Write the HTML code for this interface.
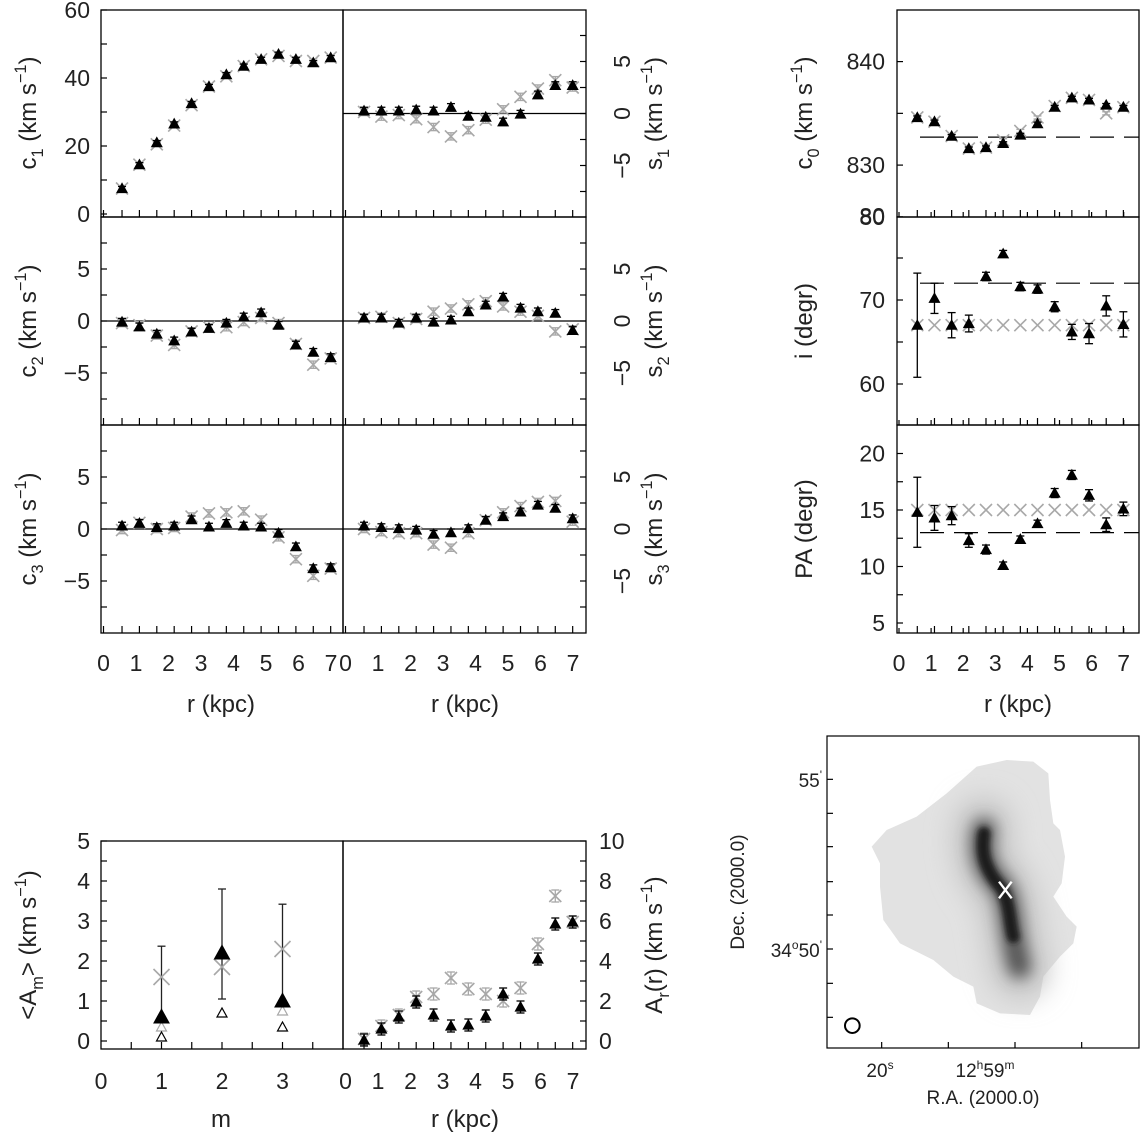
<!DOCTYPE html>
<html><head><meta charset="utf-8">
<style>
html,body{margin:0;padding:0;background:#fff;}
svg{display:block;font-family:"Liberation Sans",sans-serif;}
text{fill:#222;}
</style></head>
<body>
<svg id="fig" width="1140" height="1134" viewBox="0 0 1140 1134" xmlns="http://www.w3.org/2000/svg">
<defs>
<filter id="blur6" filterUnits="userSpaceOnUse" x="-500" y="-500" width="3000" height="3000"><feGaussianBlur stdDeviation="8"/></filter>
<filter id="blur14" filterUnits="userSpaceOnUse" x="-500" y="-500" width="3000" height="3000"><feGaussianBlur stdDeviation="22"/></filter>
<filter id="blur30" filterUnits="userSpaceOnUse" x="-500" y="-500" width="3000" height="3000"><feGaussianBlur stdDeviation="40"/></filter>
</defs>
<g id="map">
<rect x="827" y="736" width="312" height="312" fill="#fff" stroke="#000" stroke-width="1.2"/>
<g transform="translate(700,730) scale(0.33333)">
<polygon fill="#e2e2e2" points="515,350 560,300 650,260 740,190 830,110 920,90 1000,95 1045,130 1050,210 1060,280 1080,300 1095,380 1085,460 1060,500 1100,560 1130,590 1120,640 1080,680 1030,740 1020,800 990,855 900,850 830,820 820,770 760,740 700,690 600,640 550,570 540,470 540,400"/>
<path d="M850,290 C840,360 850,420 905,470 C935,520 930,600 960,720" fill="none" stroke="#c4c4c4" stroke-width="170" stroke-linecap="round" filter="url(#blur30)"/>
<path d="M852,300 C838,360 850,420 905,470 C935,520 928,600 958,710" fill="none" stroke="#555" stroke-width="70" stroke-linecap="round" filter="url(#blur14)"/>
<path d="M852,310 C842,370 855,420 905,475 C930,520 930,590 940,620" fill="none" stroke="#1a1a1a" stroke-width="38" stroke-linecap="round" filter="url(#blur6)"/>
<g stroke="#fff" stroke-width="7"><line x1="897" y1="455" x2="935" y2="505"/><line x1="935" y1="455" x2="897" y2="505"/></g>
<circle cx="457" cy="887" r="22" fill="none" stroke="#000" stroke-width="6"/>
</g>
</g>
<g id="g"></g>
</svg>
<script>
// ---------- data ----------
const rIdx = [0,1,2,3,4,5,6,7,8,9,10,11,12];
const c1Black = [7.5,14.5,21,26.5,32.5,37.5,41,43.5,45.5,47,45.5,44.5,46];
const c1Grey  = [7.5,14.5,20.5,26,32,37.5,40.5,43.5,45.5,46.5,45,45,46];
const s1Black = [0.25,0.25,0.25,0.35,0.25,0.6,-0.25,-0.35,-0.8,-0.05,1.8,2.7,2.7];
const s1Grey  = [0.15,-0.3,-0.15,-0.55,-1.3,-2.2,-1.6,-0.6,0.4,1.6,2.4,3.2,2.5];
const c2Black = [-0.1,-0.55,-1.25,-1.9,-1.05,-0.7,-0.2,0.4,0.8,-0.4,-2.3,-3.0,-3.5];
const c2Grey  = [-0.2,-0.4,-1.4,-2.3,-1.0,-0.6,-0.6,-0.1,0.3,-0.2,-2.2,-4.2,-3.6];
const s2Black = [0.3,0.3,-0.2,0.3,-0.1,0.1,0.9,1.55,2.3,1.25,0.9,0.75,-0.9];
const s2Grey  = [0.3,0.4,-0.2,0.2,0.9,1.2,1.6,1.9,1.4,0.9,0.5,-1.0,-0.8];
const c3Black = [0.3,0.55,0.15,0.3,0.9,0.2,0.55,0.3,0.2,-0.4,-1.7,-3.8,-3.7];
const c3Grey  = [-0.1,0.6,0,0.1,1.2,1.5,1.6,1.7,0.9,-0.8,-2.9,-4.5,-3.8];
const s3Black = [0.3,0.15,0.05,-0.1,-0.5,-0.35,0.05,0.85,1.2,1.65,2.3,2.0,1.0];
const s3Grey  = [0,-0.3,-0.4,-0.4,-1.5,-1.8,-0.4,0.85,1.6,2.2,2.6,2.7,0.7];
const c0Black = [834.6,834.2,832.8,831.6,831.7,832.1,832.9,834.0,835.6,836.5,836.3,835.8,835.6];
const c0Grey  = [834.6,834.2,832.8,831.6,831.7,832.4,833.3,834.6,835.7,836.5,836.3,835.0,835.6];
const incBlack = [67.0,70.2,67.0,67.2,72.8,75.5,71.6,71.3,69.2,66.2,66.0,69.3,67.1];
const incErr   = [6.2,1.8,1.5,1.0,0.5,0.4,0.5,0.5,0.6,0.9,1.2,1.2,1.5];
const incGrey  = [67,67,67,67,67,67,67,67,67,67,67,67,67];
const paBlack = [14.8,14.3,14.5,12.3,11.5,10.1,12.4,13.8,16.5,18.1,16.3,13.7,15.1];
const paErr   = [3.1,1.1,0.8,0.6,0.4,0.3,0.3,0.3,0.4,0.4,0.5,0.6,0.6];
const paGrey  = [15,15,15,15,15,15,15,15,15,15,15,15,15];
const arBlack = [0.05,0.6,1.2,1.95,1.3,0.75,0.8,1.25,2.35,1.7,4.1,5.85,5.95];
const arGrey  = [0.1,0.75,1.3,2.2,2.35,3.15,2.6,2.35,2.0,2.65,4.85,7.25,5.95];
const mVals = [1,2,3];
const amBlack = [0.6,2.2,1.0];
const amBlackErrTop = [2.37,3.8,3.42];
const amBlackErrBot = [0.6,1.05,1.0];
const amGrey = [1.6,1.85,2.3];
const amOpenGrey = [0.35,null,0.75];
const amOpenBlack = [0.1,0.7,0.35];
const xTickLabels = ["0","1","2","3","4","5","6","7"];
const mTickLabels = ["0","1","2","3"];
// ---------- helpers ----------
const NS="http://www.w3.org/2000/svg";
const G=document.getElementById('g');
function mk(tag,attrs,parent){const e=document.createElementNS(NS,tag);for(const k in attrs)e.setAttribute(k,attrs[k]);(parent||G).appendChild(e);return e;}
const rVal = i => 0.57+0.535*i;
function axis(px0,scale,xval){return px0+scale*xval;}
function yAxis(zeroPx,pxPerUnit,v0){return v=>zeroPx-(v-v0)*pxPerUnit;}
function grp(name){const g=mk('g',{});


return g;}
function frame(g,x0,y0,x1,y1){const r=mk('rect',{x:x0,y:y0,width:x1-x0,height:y1-y0,fill:'none',stroke:'#000','stroke-width':1.3},g);

}
function line(g,x1,y1,x2,y2,st,w,dash){const l=mk('line',{x1,y1,x2,y2,stroke:st||'#000','stroke-width':w||1.2},g);if(dash)l.setAttribute('stroke-dasharray',dash);return l;}
function txt(g,x,y,s,anchor,size,rot){const t=mk('text',{x,y,'font-size':size||23,'text-anchor':anchor||'middle'},g);t.textContent=s;if(rot)t.setAttribute('transform',`rotate(-90 ${x} ${y})`);return t;}
function errbar(g,x,y1,y2,col){line(g,x,y1,x,y2,col,1.3);line(g,x-4,y1,x+4,y1,col,1.3);line(g,x-4,y2,x+4,y2,col,1.3);}
function tri(g,x,y,fill,stroke){const p=mk('polygon',{points:`${x-5},${y+4} ${x+5},${y+4} ${x},${y-5}`,fill:fill,stroke:stroke||fill,'stroke-width':1.2},g);

return p;}
function cross(g,x,y,s){s=s||6;const c=mk('g',{stroke:'#a8a8a8','stroke-width':1.6},g);


line(c,x-s,y-s,x+s,y+s,'#a8a8a8',1.6);line(c,x-s,y+s,x+s,y-s,'#a8a8a8',1.6);}
function rotTitle(g,x,y,parts,size){
 size=size||24;const t=mk('text',{x,y,'font-size':size,'text-anchor':'middle',transform:`rotate(-90 ${x} ${y})`},g);
 let cur=0;for(const [s,k] of parts){const sp=mk('tspan',{},t);sp.textContent=s;
  let target=k==='sub'?7:k==='sup'?-10:0;if(target!==cur){sp.setAttribute('dy',target-cur);cur=target;}
  if(k!=='n')sp.setAttribute('font-size',size*0.68);}
 return t;}
function seriesPanel(name,px0,scale,ys,black,grey,errB,errG,opts){
 const g=grp(name);
 if(opts.zero!==undefined) line(g,opts.x0,ys(opts.zero),opts.x1,ys(opts.zero),'#000',1.3);
 rIdx.forEach(i=>{const x=axis(px0,scale,rVal(i));
  if(grey){const y=ys(grey[i]);const e=errG?errG(i):0;if(e)errbar(g,x,ys(grey[i]+e),ys(grey[i]-e),'#a8a8a8');cross(g,x,y);}
 });
 rIdx.forEach(i=>{const x=axis(px0,scale,rVal(i));
  const y=ys(black[i]);const e=errB?errB(i):0;if(e)errbar(g,x,ys(black[i]+e),ys(black[i]-e),'#000');tri(g,x,y,'#000');
 });
 return g;}
// ---------- left grid ----------
const rows=[[10,217],[217,425],[425,633]];
const LX0=101,LXM=343,LX1=586;
const Lscale=32.5;
const Lpx0=LX0+2.5, Rpx0=LXM+2.5;
const symY=(row)=>yAxis((rows[row][0]+rows[row][1])/2,10.4,0);
rows.forEach((rw,ri)=>{
 const g=grp('row-'+(ri+1)+'-frames');
 frame(g,LX0,rw[0],LXM,rw[1]);frame(g,LXM,rw[0],LX1,rw[1]);
 rIdx.forEach(i=>{line(g,axis(Lpx0,Lscale,rVal(i)),rw[1],axis(Lpx0,Lscale,rVal(i)),rw[1]-7);line(g,axis(Rpx0,Lscale,rVal(i)),rw[1],axis(Rpx0,Lscale,rVal(i)),rw[1]-7);});
 line(g,Lpx0,rw[1],Lpx0,rw[1]-7);line(g,Rpx0,rw[1],Rpx0,rw[1]-7);
});
(function(){const g=grp('c1-y-axis');const ys=yAxis(214,3.4,0);
 [0,10,20,30,40,50,60].forEach(v=>{line(g,LX0,ys(v),LX0+6,ys(v));});
 [0,20,40,60].forEach(v=>txt(g,90,ys(v)+8,String(v),'end',23));
 rotTitle(g,36,113,[['c','n'],['1','sub'],['  (km s','n'],['−1','sup'],[')','n']]);
})();
for(let ri=1;ri<3;ri++){const g=grp('c'+(ri+1)+'-y-axis');const ys=symY(ri);
 [-7.5,-5,-2.5,0,2.5,5,7.5].forEach(v=>line(g,LX0,ys(v),LX0+6,ys(v)));
 [[5,'5'],[0,'0'],[-5,'−5']].forEach(([v,s])=>txt(g,90,ys(v)+8,s,'end',23));
 rotTitle(g,36,(rows[ri][0]+rows[ri][1])/2,[['c','n'],[String(ri+1),'sub'],['  (km s','n'],['−1','sup'],[')','n']]);
}
for(let ri=0;ri<3;ri++){const g=grp('s'+(ri+1)+'-y-axis');const ys=symY(ri);
 [-7.5,-5,-2.5,0,2.5,5,7.5].forEach(v=>line(g,LX1,ys(v),LX1-6,ys(v)));
 [[5,'5'],[0,'0'],[-5,'−5']].forEach(([v,s])=>txt(g,630,ys(v),s,'middle',23,true));
 rotTitle(g,662,(rows[ri][0]+rows[ri][1])/2,[['s','n'],[String(ri+1),'sub'],['  (km s','n'],['−1','sup'],[')','n']]);
}
const eSmall=()=>0.35;
seriesPanel('c1-series',Lpx0,Lscale,yAxis(214,3.4,0),c1Black,c1Grey,()=>0.6,()=>0.6,{});
seriesPanel('s1-series',Rpx0,Lscale,symY(0),s1Black,s1Grey,eSmall,eSmall,{zero:0,x0:LXM,x1:LX1});
seriesPanel('c2-series',Lpx0,Lscale,symY(1),c2Black,c2Grey,eSmall,eSmall,{zero:0,x0:LX0,x1:LXM});
seriesPanel('s2-series',Rpx0,Lscale,symY(1),s2Black,s2Grey,eSmall,eSmall,{zero:0,x0:LXM,x1:LX1});
seriesPanel('c3-series',Lpx0,Lscale,symY(2),c3Black,c3Grey,eSmall,eSmall,{zero:0,x0:LX0,x1:LXM});
seriesPanel('s3-series',Rpx0,Lscale,symY(2),s3Black,s3Grey,eSmall,eSmall,{zero:0,x0:LXM,x1:LX1});
(function(){const g=grp('left-x-axis');
 xTickLabels.forEach((s,k)=>{txt(g,axis(Lpx0,Lscale,k),671,s,'middle',23);txt(g,axis(Rpx0,Lscale,k),671,s,'middle',23);});
 txt(g,221,712,'r  (kpc)','middle',24);txt(g,465,712,'r  (kpc)','middle',24);
})();
// ---------- right column ----------
const CX0=897,CX1=1139,Cscale=32.1,Cpx0=899;
(function(){
 const g=grp('right-column-frames');
 rows.forEach(rw=>{frame(g,CX0,rw[0],CX1,rw[1]);
  rIdx.forEach(i=>line(g,axis(Cpx0,Cscale,rVal(i)),rw[1],axis(Cpx0,Cscale,rVal(i)),rw[1]-7));
  [0,1,2,3,4,5,6,7].forEach(k=>line(g,axis(Cpx0,Cscale,k),rw[1],axis(Cpx0,Cscale,k),rw[1]-5));});
 xTickLabels.forEach((s,k)=>txt(g,axis(Cpx0,Cscale,k),671,s,'middle',23));
 txt(g,1018,712,'r  (kpc)','middle',24);
})();
(function(){const ys=yAxis(61.6,10.35,840);const g=grp('c0-panel');
 [825,830,835,840,845].forEach(v=>{if(ys(v)>10&&ys(v)<217)line(g,CX0,ys(v),CX0+6,ys(v));});
 txt(g,885,ys(840)+8,'840','end',23);txt(g,885,ys(830)+8,'830','end',23);txt(g,885,225,'80','end',23);
 rotTitle(g,812,113,[['c','n'],['0','sub'],[' (km s','n'],['−1','sup'],[')','n']]);
 line(g,920,ys(832.7),CX1,ys(832.7),'#000',1.2,'24,10');
 seriesPanel('c0-series',Cpx0,Cscale,ys,c0Black,c0Grey,()=>0.15,()=>0.15,{});
})();
(function(){const ys=yAxis(300,8.4,70);const g=grp('inclination-panel');
 [60,65,70,75].forEach(v=>line(g,CX0,ys(v),CX0+6,ys(v)));
 [60,70,80].forEach(v=>txt(g,885,ys(v)+8,String(v),'end',23));
 rotTitle(g,812,321,[['i (degr)','n']]);
 line(g,920,ys(72),CX1,ys(72),'#000',1.2,'24,10');
 seriesPanel('inclination-series',Cpx0,Cscale,ys,incBlack,incGrey,i=>incErr[i],null,{});
})();
(function(){const ys=yAxis(510,11.3,15);const g=grp('pa-panel');
 [5,7.5,10,12.5,15,17.5,20].forEach(v=>line(g,CX0,ys(v),CX0+6,ys(v)));
 [5,10,15,20].forEach(v=>txt(g,885,ys(v)+8,String(v),'end',23));
 rotTitle(g,812,529,[['PA (degr)','n']]);
 line(g,920,ys(13),CX1,ys(13),'#000',1.2,'24,10');
 seriesPanel('pa-series',Cpx0,Cscale,ys,paBlack,paGrey,i=>paErr[i],null,{});
})();
// ---------- bottom: <Am> ----------
(function(){const top=841,bot=1049;const ys=yAxis(1041,40,0);const xs=m=>101+60.5*m;
 const g=grp('am-panel');frame(g,LX0,top,LXM,bot);
 [0.5,1,1.5,2,2.5,3,3.5].forEach(m=>line(g,xs(m),bot,xs(m),bot-7));
 [0,0.5,1,1.5,2,2.5,3,3.5,4,4.5,5].forEach(v=>line(g,LX0,ys(v),LX0+6,ys(v)));
 [0,1,2,3,4,5].forEach(v=>txt(g,90,ys(v)+8,String(v),'end',23));
 mTickLabels.forEach((s,k)=>txt(g,xs(k),1089,s,'middle',23));
 txt(g,221,1127,'m','middle',24);
 rotTitle(g,36,945,[['<A','n'],['m','sub'],['>  (km s','n'],['−1','sup'],[')','n']]);
 mVals.forEach((m,k)=>{const x=xs(m);
  errbar(g,x,ys(amBlackErrTop[k]),ys(amBlackErrBot[k]),'#222');
  cross(g,x,ys(amGrey[k]),8);
  if(amOpenGrey[k]!==null) tri(g,x,ys(amOpenGrey[k]),'none','#a8a8a8');
  tri(g,x,ys(amOpenBlack[k]),'none','#000');
  const t=tri(g,x,ys(amBlack[k]),'#000');t.setAttribute('transform',`translate(${x} ${ys(amBlack[k])}) scale(1.4) translate(${-x} ${-ys(amBlack[k])})`);
 });
})();
// ---------- bottom: Ar(r) ----------
(function(){const top=841,bot=1049;const ys=yAxis(1041,20,0);
 const g=grp('ar-panel');frame(g,LXM,top,LX1,bot);
 rIdx.forEach(i=>line(g,axis(Rpx0,Lscale,rVal(i)),bot,axis(Rpx0,Lscale,rVal(i)),bot-7));
 [0,1,2,3,4,5,6,7,8,9,10].forEach(v=>line(g,LX1,ys(v),LX1-6,ys(v)));
 [0,2,4,6,8,10].forEach(v=>txt(g,599,ys(v)+8,String(v),'start',23));
 xTickLabels.forEach((s,k)=>txt(g,axis(Rpx0,Lscale,k),1089,s,'middle',23));
 txt(g,465,1127,'r  (kpc)','middle',24);
 rotTitle(g,662,945,[['A','n'],['r','sub'],['(r)  (km s','n'],['−1','sup'],[')','n']]);
 seriesPanel('ar-series',Rpx0,Lscale,ys,arBlack,arGrey,()=>0.3,()=>0.3,{});
})();
// ---------- map axes ----------
(function(){const g=grp('map-axes');
 const ly=[148,250,350,455,555,657,760,862].map(v=>730+v/3);
 ly.forEach(y=>line(g,827,y,833,y));
 const bx=[545,745,945,1145].map(v=>700+v/3);
 bx.forEach(x=>line(g,x,1048,x,1042));
 const t1=mk('text',{x:822,y:787,'font-size':19,'text-anchor':'end'},g);t1.textContent="55";const a=mk('tspan',{dy:-8,'font-size':12},t1);a.textContent="'";
 const t2=mk('text',{x:822,y:957,'font-size':19,'text-anchor':'end'},g);t2.textContent="34";const b=mk('tspan',{dy:-8,'font-size':12},t2);b.textContent="o";const b2=mk('tspan',{dy:8},t2);b2.textContent="50";const b3=mk('tspan',{dy:-8,'font-size':12},t2);b3.textContent="'";
 rotTitle(g,744,892,[['Dec.  (2000.0)','n']],19);
 const t3=mk('text',{x:880,y:1077,'font-size':19,'text-anchor':'middle'},g);t3.textContent="20";const c=mk('tspan',{dy:-8,'font-size':12},t3);c.textContent="s";
 const t4=mk('text',{x:985,y:1077,'font-size':19,'text-anchor':'middle'},g);t4.textContent="12";const d=mk('tspan',{dy:-8,'font-size':12},t4);d.textContent="h";const d2=mk('tspan',{dy:8},t4);d2.textContent="59";const d3=mk('tspan',{dy:-8,'font-size':12},t4);d3.textContent="m";
 txt(g,983,1104,'R.A.  (2000.0)','middle',19);
})();
</script>
</body></html>
